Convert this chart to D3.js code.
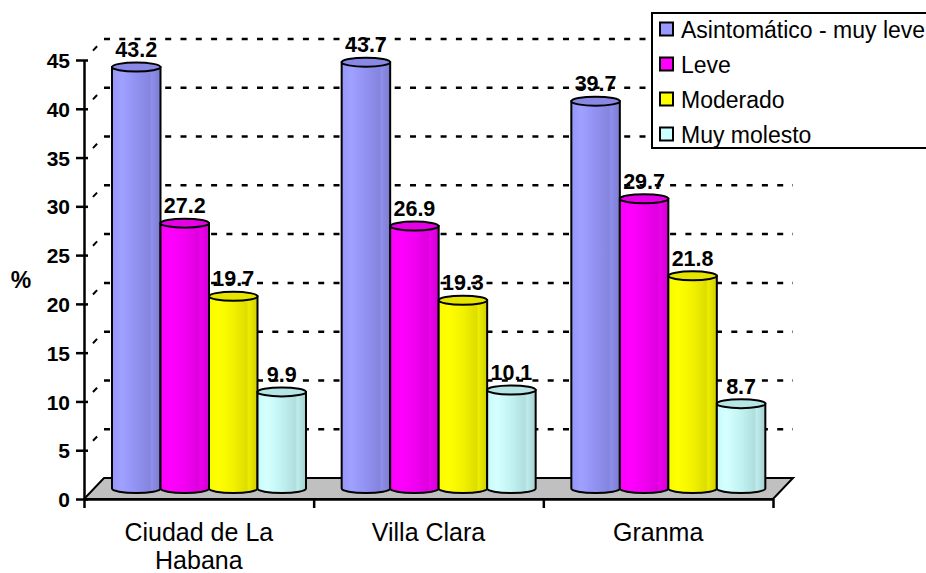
<!DOCTYPE html>
<html>
<head>
<meta charset="utf-8">
<script src="https://cdn.jsdelivr.net/npm/d3@7"></script>
<style>
  body { margin: 0; background: #fff; }
  svg { display: block; font-family: "Liberation Sans", Arial, sans-serif; }
</style>
</head>
<body>
<svg id="chart" width="926" height="573"></svg>
<script>
// data
const categories = ['Ciudad de La Habana', 'Villa Clara', 'Granma'];
const categoryLines = [['Ciudad de La', 'Habana'], ['Villa Clara'], ['Granma']];
const seriesNames = ['Asintomático - muy leve', 'Leve', 'Moderado', 'Muy molesto'];
const asintomatico = [43.2, 43.7, 39.7];
const leve = [27.2, 26.9, 29.7];
const moderado = [19.7, 19.3, 21.8];
const muyMolesto = [9.9, 10.1, 8.7];
const yTicks = [0, 5, 10, 15, 20, 25, 30, 35, 40, 45];

const seriesValues = [asintomatico, leve, moderado, muyMolesto];
const colors = ['#9999ff', '#ff00ff', '#ffff00', '#ccffff'];

const plotLeft = 84, plotRight = 773, plotBottom = 499, plotTop = 60;
const depthX = 20, depthY = -21;   // back wall offset
const midX = depthX / 2, midY = depthY / 2;

const svg = d3.select('#chart');
const defs = svg.append('defs');

const x = d3.scaleBand().domain(categories).range([plotLeft, plotRight]);
const xInner = d3.scaleBand().domain(seriesNames).range([18, 212]);
const y = d3.scaleLinear().domain([0, 45]).range([plotBottom, plotTop]);
const xEdge = d3.scaleLinear().domain([0, categories.length]).range([plotLeft, plotRight]);

// gradients for the cylinders
colors.forEach((c, i) => {
  const base = d3.color(c);
  const g = defs.append('linearGradient').attr('id', 'grad' + i)
    .attr('x1', 0).attr('x2', 1).attr('y1', 0).attr('y2', 0);
  [[0, base.darker(0.05)], [0.2, base.brighter(0.12)], [0.5, base.darker(0.15)],
   [0.78, base.darker(0.4)], [0.82, base.darker(0.2)], [1, base.darker(0.6)]]
    .forEach(([o, col]) => g.append('stop').attr('offset', o).attr('stop-color', col));
});

// floor
svg.append('polygon')
  .attr('points', [[plotLeft, plotBottom], [plotRight, plotBottom],
    [plotRight + depthX, plotBottom + depthY], [plotLeft + depthX, plotBottom + depthY]].join(' '))
  .attr('fill', '#c0c0c0')
  .attr('stroke', '#000')
  .attr('stroke-width', 2);

// grid on back wall and left wall
const gridVals = yTicks.filter((d) => d > 0);
svg.append('g').selectAll('line')
  .data(gridVals)
  .enter().append('line')
  .attr('x1', plotLeft + depthX)
  .attr('x2', plotRight + depthX)
  .attr('y1', (d) => y(d) + depthY)
  .attr('y2', (d) => y(d) + depthY)
  .attr('stroke', '#000')
  .attr('stroke-width', 2.5)
  .attr('stroke-dasharray', '6,9.3');

svg.append('g').selectAll('line')
  .data(gridVals)
  .enter().append('line')
  .attr('x1', plotLeft)
  .attr('x2', plotLeft + depthX)
  .attr('y1', (d) => y(d))
  .attr('y2', (d) => y(d) + depthY)
  .attr('stroke', '#000')
  .attr('stroke-width', 2)
  .attr('stroke-dasharray', '0,13,6,30');

// axes
const yAxis = svg.append('g')
  .attr('transform', `translate(${plotLeft},0)`)
  .call(d3.axisLeft(y).tickValues(yTicks).tickSize(8).tickSizeOuter(0).tickPadding(6));
yAxis.selectAll('.tick line').attr('x1', 4);
yAxis.selectAll('path, line').attr('stroke', '#000').attr('stroke-width', 2.5);
yAxis.selectAll('text')
  .attr('font-family', '"Liberation Sans", Arial, sans-serif')
  .attr('font-size', 21)
  .attr('font-weight', 'bold')
  .attr('fill', '#000')
  .attr('dy', '0.36em');

const xAxis = svg.append('g')
  .attr('transform', `translate(0,${plotBottom})`)
  .call(d3.axisBottom(xEdge).tickValues(d3.range(categories.length + 1)).tickSize(9).tickSizeOuter(0).tickFormat(''));
xAxis.selectAll('path, line').attr('stroke', '#000').attr('stroke-width', 2.5);

// cylinders
const rx = xInner.bandwidth() / 2;
const ry = 4.5;
const bars = [];
categories.forEach((cat, ci) => {
  seriesNames.forEach((s, si) => {
    bars.push({ cat, s, si, v: seriesValues[si][ci] });
  });
});

const bar = svg.append('g').selectAll('g')
  .data(bars)
  .enter().append('g')
  .attr('transform', (d) => `translate(${x(d.cat) + xInner(d.s) + midX},${midY})`);

bar.append('path')
  .attr('d', (d) => {
    const yt = y(d.v), yb = y(0);
    return `M0,${yt} L0,${yb} A${rx},${ry} 0 0 0 ${2 * rx},${yb} L${2 * rx},${yt} Z`;
  })
  .attr('fill', (d) => `url(#grad${d.si})`)
  .attr('stroke', '#000')
  .attr('stroke-width', 2);

bar.append('ellipse')
  .attr('cx', rx)
  .attr('cy', (d) => y(d.v))
  .attr('rx', rx)
  .attr('ry', ry)
  .attr('fill', (d) => d3.color(colors[d.si]).darker(0.3))
  .attr('stroke', '#000')
  .attr('stroke-width', 2);

bar.append('text')
  .attr('x', rx)
  .attr('y', (d) => y(d.v) - 10)
  .attr('text-anchor', 'middle')
  .attr('font-size', 21.5)
  .attr('font-weight', 'bold')
  .text((d) => d.v.toFixed(1));

// category labels
const catLabel = svg.append('g').selectAll('text')
  .data(categories)
  .enter().append('text')
  .attr('x', (d) => x(d) + x.bandwidth() / 2)
  .attr('y', 541)
  .attr('text-anchor', 'middle')
  .attr('font-size', 25);
catLabel.selectAll('tspan')
  .data((d, i) => categoryLines[i])
  .enter().append('tspan')
  .attr('x', function () { return d3.select(this.parentNode).attr('x'); })
  .attr('dy', (d, i) => i === 0 ? 0 : 28)
  .text((d) => d);

// y title
svg.append('text')
  .attr('x', 21)
  .attr('y', 288)
  .attr('text-anchor', 'middle')
  .attr('font-size', 23)
  .attr('font-weight', 'bold')
  .text('%');

// legend
const legend = svg.append('g');
legend.append('rect')
  .attr('x', 652).attr('y', 13)
  .attr('width', 300).attr('height', 135)
  .attr('fill', '#fff')
  .attr('stroke', '#000')
  .attr('stroke-width', 2);

const item = legend.selectAll('.item')
  .data(seriesNames)
  .enter().append('g')
  .attr('class', 'item')
  .attr('transform', (d, i) => `translate(0,${37.5 + i * 35})`);

item.append('rect')
  .attr('x', 660).attr('y', -15)
  .attr('width', 13).attr('height', 13)
  .attr('fill', (d, i) => colors[i])
  .attr('stroke', '#000')
  .attr('stroke-width', 2);

item.append('text')
  .attr('x', 681)
  .attr('font-size', 23)
  .text((d) => d);
</script>
</body>
</html>
